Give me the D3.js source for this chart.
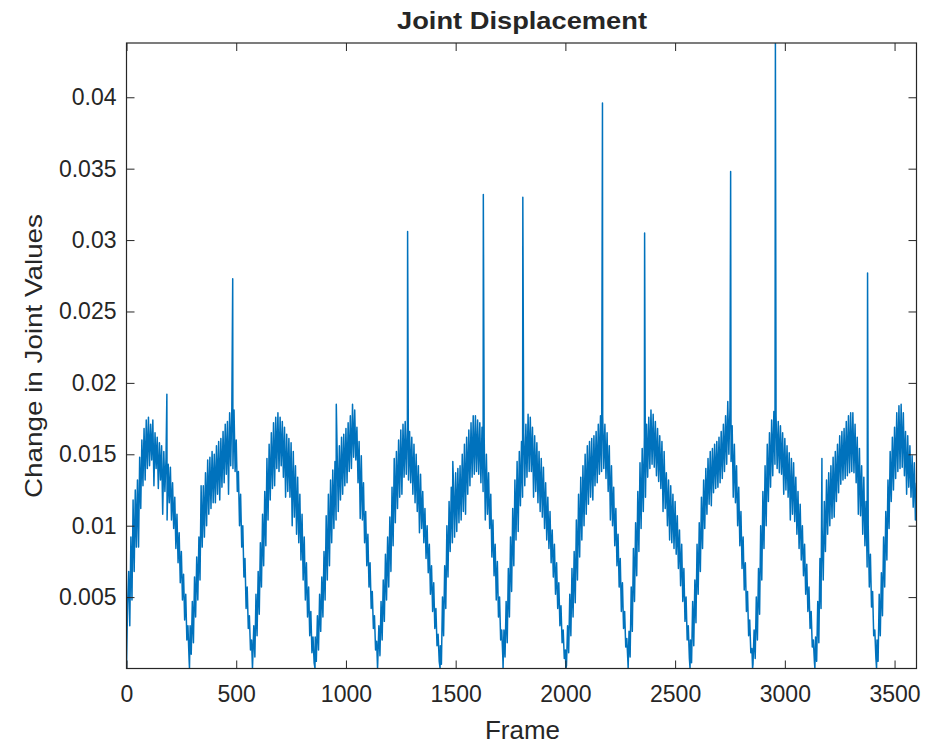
<!DOCTYPE html>
<html>
<head>
<meta charset="utf-8">
<script src="https://cdn.jsdelivr.net/npm/d3@7"></script>
<style>
  body { margin: 0; background: #ffffff; }
  svg text { font-family: "Liberation Sans", Arial, Helvetica, sans-serif; fill: #262626; }
</style>
</head>
<body>
<svg id="chart" width="937" height="744"></svg>
<script>
// Per-frame change in joint values, sampled every `frameStep` frames (one row = 100 frames).
const frameStep = 5;
const displacement = [
  0, .0045, .0068, .003, .0092, .0048, .0118, .0068, .0125, .0085, .0132, .0085, .0148, .0112, .016, .0128, .0168, .0132, .0174, .0140,
  .0176, .0142, .0171, .0146, .0174, .0128, .0165, .0140, .0162, .0126, .0158, .0132, .0156, .0108, .0152, .0124, .0147, .0104, .0143, .0116,
  .0141, .0104, .0130, .0098, .0120, .0084, .0108, .0074, .0095, .0060, .0082, .0048, .0066, .0034, .0052, .0020, .0030, .0007, .0030, .0010,
  .0047, .0018, .0064, .0036, .0078, .0048, .0092, .0062, .0128, .0085, .0128, .0092, .0137, .0100, .0146, .0108, .0148, .0112, .0152, .0116,
  .0150, .0116, .0156, .0122, .0159, .0118, .0161, .0127, .0166, .0130, .0171, .0136, .0173, .0122, .0179, .0142, .0183, .0140, .0181, .0138,
  .0160, .0124, .0138, .0100, .0122, .0085, .0100, .0064, .0077, .0042, .0057, .0028, .0037, .0013, .0020, .0004, .0030, .0008, .0052, .0023,
  .0068, .0038, .0088, .0057, .0108, .0072, .0124, .0086, .0147, .0104, .0157, .0118, .0165, .0126, .0172, .0128, .0176, .0140, .0179, .0138,
  .0176, .0142, .0173, .0134, .0169, .0120, .0164, .0124, .0161, .0120, .0158, .0100, .0152, .0106, .0142, .0094, .0134, .0088, .0122, .0076,
  .0108, .0062, .0092, .0048, .0074, .0036, .0057, .0023, .0040, .0011, .0022, .0004, .0022, .0005, .0037, .0013, .0052, .0026, .0064, .0036,
  .0082, .0048, .0107, .0062, .0122, .0072, .0132, .0088, .0139, .0098, .0145, .0104, .0151, .0110, .0156, .0118, .0162, .0122, .0164, .0128,
  .0168, .0130, .0172, .0138, .0177, .0140, .0185, .0148, .0181, .0146, .0169, .0130, .0159, .0105, .0149, .0104, .0130, .0088, .0110, .0072,
  .0094, .0057, .0074, .0042, .0054, .0028, .0037, .0013, .0019, .0004, .0030, .0009, .0047, .0020, .0062, .0033, .0080, .0048, .0092, .0057,
  .0106, .0068, .0127, .0086, .0147, .0102, .0152, .0112, .0160, .0120, .0167, .0122, .0171, .0134, .0173, .0136, .0169, .0132, .0166, .0130,
  .0162, .0122, .0157, .0116, .0150, .0110, .0142, .0095, .0136, .0098, .0124, .0088, .0112, .0077, .0100, .0067, .0087, .0052, .0072, .0040,
  .0060, .0028, .0042, .0016, .0024, .0005, .0016, .0003, .0050, .0023, .0072, .0042, .0100, .0064, .0117, .0082, .0127, .0088, .0130, .0092,
  .0137, .0096, .0140, .0102, .0142, .0104, .0150, .0110, .0157, .0108, .0162, .0122, .0167, .0128, .0172, .0134, .0177, .0136, .0177, .0138,
  .0174, .0136, .0172, .0130, .0169, .0124, .0162, .0104, .0150, .0108, .0137, .0098, .0122, .0078, .0104, .0065, .0087, .0048, .0075, .0036,
  .0050, .0020, .0027, .0007, .0027, .0008, .0047, .0018, .0070, .0036, .0092, .0054, .0112, .0072, .0132, .0090, .0145, .0096, .0152, .0114,
  .0159, .0120, .0165, .0128, .0171, .0134, .0178, .0138, .0176, .0138, .0169, .0120, .0163, .0124, .0158, .0116, .0152, .0110, .0147, .0106,
  .0141, .0098, .0130, .0090, .0120, .0084, .0110, .0074, .0097, .0064, .0087, .0052, .0074, .0042, .0060, .0030, .0044, .0018, .0027, .0007,
  .0013, .0002, .0030, .0011, .0052, .0023, .0070, .0036, .0082, .0046, .0104, .0062, .0122, .0078, .0134, .0090, .0142, .0100, .0150, .0108,
  .0156, .0115, .0159, .0120, .0161, .0118, .0163, .0128, .0166, .0130, .0171, .0136, .0177, .0138, .0177, .0140, .0171, .0133, .0165, .0124,
  .0156, .0104, .0142, .0100, .0127, .0086, .0112, .0072, .0094, .0057, .0077, .0040, .0060, .0028, .0040, .0015, .0021, .0004, .0026, .0008,
  .0057, .0026, .0084, .0047, .0102, .0065, .0124, .0082, .0144, .0098, .0154, .0110, .0162, .0120, .0171, .0134, .0176, .0140, .0181, .0143,
  .0178, .0141, .0173, .0135, .0168, .0131, .0163, .0126, .0159, .0110, .0152, .0112, .0137, .0100, .0132, .0090, .0128, .0088, .0122, .0084,
  .0117, .0080, .0107, .0070, .0097, .0058, .0087, .0047, .0070, .0033, .0050, .0020, .0030, .0007, .0020, .0004, .0047, .0016, .0062, .0032,
  .0087, .0052, .0102, .0068, .0120, .0084, .0132, .0098, .0140, .0108, .0147, .0115, .0152, .0114, .0154, .0123, .0157, .0126, .0159, .0127,
  .0162, .0130, .0166, .0133, .0171, .0138, .0177, .0143, .0187, .0150, .0183, .0145, .0170, .0120, .0157, .0116, .0142, .0100, .0127, .0086,
  .0110, .0070, .0092, .0055, .0074, .0040, .0054, .0023, .0034, .0011, .0014, .0003, .0027, .0007, .0050, .0020, .0070, .0038, .0100, .0062,
  .0124, .0084, .0142, .0100, .0157, .0117, .0165, .0127, .0174, .0135, .0180, .0143, .0177, .0140, .0173, .0137, .0170, .0136, .0165, .0122,
  .0161, .0125, .0156, .0120, .0151, .0104, .0147, .0108, .0144, .0103, .0134, .0094, .0124, .0084, .0115, .0076, .0100, .0065, .0087, .0052,
  .0073, .0040, .0057, .0028, .0040, .0015, .0020, .0004, .0022, .0005, .0047, .0018, .0077, .0042, .0099, .0062, .0117, .0082, .0132, .0094,
  .0137, .0100, .0142, .0105, .0148, .0106, .0152, .0117, .0157, .0123, .0163, .0129, .0166, .0132, .0168, .0133, .0173, .0135, .0177, .0137,
  .0179, .0138, .0179, .0137, .0171, .0130, .0162, .0108, .0154, .0107, .0142, .0094, .0134, .0086, .0117, .0071, .0100, .0057, .0080, .0043,
  .0054, .0023, .0027, .0007, .0020, .0005, .0052, .0023, .0067, .0037, .0092, .0057, .0110, .0076, .0132, .0098, .0152, .0117, .0162, .0125,
  .0169, .0133, .0179, .0138, .0184, .0140, .0185, .0141, .0179, .0135, .0166, .0122, .0163, .0127, .0156, .0120, .0149, .0113, .0144, .0104,
  .0130
];

// Frames where the motion reverses and the change drops to zero.
const dipFrames = [287, 574, 859, 1144, 1429, 1716, 2002, 2286, 2568, 2853, 3137, 3418];
const dipValues = [0, 0, 0, 0, 0, 0, 0, 0, 0, 0, 0, 0];

// Single-frame jumps.
const spikeFrames = [184, 484, 956, 1281, 1487, 1626, 1806, 2169, 2361, 2753, 2957, 3169, 3377];
const spikeValues = [.0192, .0273, .0185, .0306, .0145, .0332, .0330, .0396, .0305, .0348, .0438, .0147, .0277];

// Axis ticks and labels.
const xTickValues = [0, 500, 1000, 1500, 2000, 2500, 3000, 3500];
const xTickLabels = ["0", "500", "1000", "1500", "2000", "2500", "3000", "3500"];
const yTickValues = [0.005, 0.01, 0.015, 0.02, 0.025, 0.03, 0.035, 0.04];
const yTickLabels = ["0.005", "0.01", "0.015", "0.02", "0.025", "0.03", "0.035", "0.04"];

const titleText = "Joint Displacement";
const xLabelText = "Frame";
const yLabelText = "Change in Joint Values";

// ---- layout ----
const plot = { left: 126.5, right: 916.5, top: 43, bottom: 668.5 };
const lineColor = "#0072BD";
const axisColor = "#262626";

const svg = d3.select("#chart");

const x = d3.scaleLinear().domain([0, 3600]).range([plot.left, plot.right]);
const y = d3.scaleLinear().domain([0, 0.0438]).range([plot.bottom, plot.top]);

// Merge the sampled series with the zero crossings and the spikes, in frame order.
const points = displacement.map((v, i) => ({ frame: i * frameStep, value: v }))
  .concat(dipFrames.map((f, i) => ({ frame: f, value: dipValues[i] })))
  .concat(spikeFrames.map((f, i) => ({ frame: f, value: spikeValues[i] })))
  .sort((a, b) => a.frame - b.frame);

svg.append("defs").append("clipPath").attr("id", "plot-clip")
  .append("rect")
  .attr("x", plot.left).attr("y", plot.top)
  .attr("width", plot.right - plot.left).attr("height", plot.bottom - plot.top);

const line = d3.line().x(d => x(d.frame)).y(d => y(d.value));

svg.append("path")
  .datum(points)
  .attr("clip-path", "url(#plot-clip)")
  .attr("fill", "none")
  .attr("stroke", lineColor)
  .attr("stroke-width", 1.5)
  .attr("stroke-linejoin", "round")
  .attr("d", line);

// ---- axes (ticks point inward on all four sides) ----
const tickLen = 8;
const fontSize = 23;

const gBottom = svg.append("g").attr("transform", `translate(0,${plot.bottom})`)
  .call(d3.axisBottom(x).tickValues(xTickValues).tickFormat((d, i) => xTickLabels[i])
    .tickSizeInner(-tickLen).tickSizeOuter(0).tickPadding(17));
const gTop = svg.append("g").attr("transform", `translate(0,${plot.top})`)
  .call(d3.axisTop(x).tickValues(xTickValues).tickFormat("")
    .tickSizeInner(-tickLen).tickSizeOuter(0));
const gLeft = svg.append("g").attr("transform", `translate(${plot.left},0)`)
  .call(d3.axisLeft(y).tickValues(yTickValues).tickFormat((d, i) => yTickLabels[i])
    .tickSizeInner(-tickLen).tickSizeOuter(0).tickPadding(10));
const gRight = svg.append("g").attr("transform", `translate(${plot.right},0)`)
  .call(d3.axisRight(y).tickValues(yTickValues).tickFormat("")
    .tickSizeInner(-tickLen).tickSizeOuter(0));

[gBottom, gTop, gLeft, gRight].forEach(g => {
  g.select(".domain").remove();
  g.selectAll(".tick line").attr("stroke", axisColor).attr("stroke-width", 1);
  g.selectAll(".tick text")
    .attr("font-family", '"Liberation Sans", Arial, sans-serif')
    .attr("font-size", fontSize)
    .attr("fill", axisColor);
});

// axes box
svg.append("rect")
  .attr("x", plot.left).attr("y", plot.top)
  .attr("width", plot.right - plot.left).attr("height", plot.bottom - plot.top)
  .attr("fill", "none").attr("stroke", axisColor).attr("stroke-width", 1.2);

// ---- titles ----
svg.append("text")
  .attr("x", 397).attr("y", 28.5)
  .attr("font-size", 24).attr("font-weight", "bold")
  .attr("fill", "#000")
  .attr("textLength", 250).attr("lengthAdjust", "spacingAndGlyphs")
  .text(titleText);

svg.append("text")
  .attr("x", 485).attr("y", 739)
  .attr("font-size", 25)
  .attr("textLength", 75).attr("lengthAdjust", "spacingAndGlyphs")
  .text(xLabelText);

svg.append("text")
  .attr("transform", "translate(42.3,498) rotate(-90)")
  .attr("font-size", 24.5)
  .attr("textLength", 284).attr("lengthAdjust", "spacingAndGlyphs")
  .text(yLabelText);
</script>
</body>
</html>
